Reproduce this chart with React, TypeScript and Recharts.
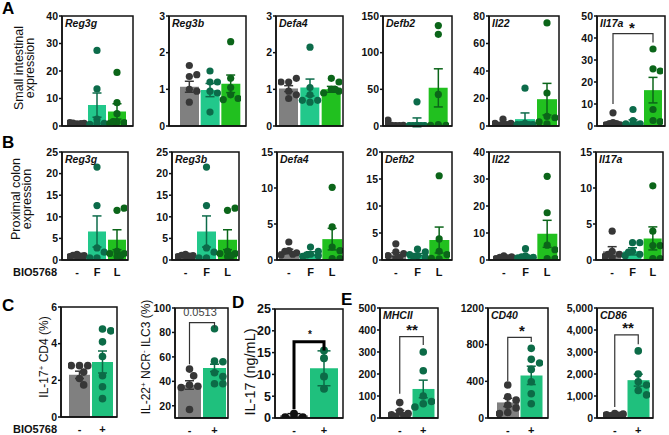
import React from 'react';
import { ComposedChart, Bar, Cell, Scatter, ErrorBar, XAxis, YAxis } from 'recharts';

const FONT = '"Liberation Sans", Arial, Helvetica, sans-serif';

// group labels
const cats3 = ['-', 'F', 'L'];
const cats2 = ['-', '+'];
const genes = ['Reg3g', 'Reg3b', 'Defa4', 'Defb2', 'Il22', 'Il17a'];
const markers = ['MHCII', 'CD40', 'CD86'];

// colours
const bar3 = ['#808080', '#22c88b', '#21c01f'];
const dot3 = ['#373737', '#0c6b4a', '#0b6519'];
const bar2 = ['#808080', '#1fc07d'];
const dot2 = ['#373737', '#0c6b47'];
const dotD = ['#111111', '#0c6b47'];

// axis ticks
const t3 = [0, 1, 2, 3];
const t6 = [0, 2, 4, 6];
const t15 = [0, 5, 10, 15];
const t20 = [0, 5, 10, 15, 20];
const t25 = [0, 5, 10, 15, 20, 25];
const t40a = [0, 10, 20, 30, 40];
const t50 = [0, 10, 20, 30, 40, 50];
const t80 = [0, 20, 40, 60, 80];
const t100 = [20, 40, 60, 80, 100];
const t150 = [0, 50, 100, 150];
const t500 = [0, 100, 200, 300, 400, 500];
const t1200 = [0, 400, 800, 1200];
const t5000 = [0, 1000, 2000, 3000, 4000, 5000];

// A: small intestinal expression
const aReg3gMean = [1.0, 7.6, 5.3];
const aReg3gSem = [0.15, 4.4, 2.8];
const aReg3gDots = [[0.8, 1.0, 1.2, 0.6, 0.9, 1.1], [27.5, 13.5, 2.5, 1.0, 0.6, 1.0], [19.5, 8.5, 4.5, 1.5, 1.2, 1.0, 1.6]];
const aReg3bMean = [1.07, 0.98, 1.15];
const aReg3bSem = [0.15, 0.18, 0.24];
const aReg3bDots = [[1.65, 1.35, 1.4, 1.0, 0.95, 0.65], [1.5, 1.2, 1.2, 0.95, 0.9, 0.38], [2.3, 1.3, 1.05, 0.85, 0.75, 0.72]];
const aDefa4Mean = [1.02, 1.05, 1.0];
const aDefa4Sem = [0.08, 0.23, 0.08];
const aDefa4Dots = [[1.2, 1.3, 1.2, 0.95, 0.85, 0.75], [2.15, 1.05, 0.85, 0.7, 0.65, 0.7], [1.3, 1.2, 1.0, 0.95, 0.9, 1.0]];
const aDefb2Mean = [2.5, 5, 52];
const aDefb2Sem = [1.2, 6, 26];
const aDefb2Dots = [[0.5, 1, 8, 2, 1, 0.5], [33, 1, 0.5, 0.5, 0.5, 0.5], [137, 125, 43, 2, 1, 1]];
const aIl22Mean = [1.8, 5, 19.5];
const aIl22Sem = [0.8, 4.5, 11.5];
const aIl22Dots = [[5, 2, 0.5, 1, 2, 1], [27.5, 2, 1, 1, 1, 1], [75, 24, 7, 6, 3, 1.5]];
const aIl17aMean = [1.5, 1.8, 16.3];
const aIl17aSem = [0.8, 1.0, 5.8];
const aIl17aDots = [[6, 1.5, 0.5, 0.5, 1, 1], [7.5, 2.5, 1, 1, 0.5, 0.5], [35, 26, 25, 7.5, 2.5, 2]];
const aIl17aBracket = [10, 42, 38];

// B: proximal colon expression
const bReg3gMean = [1.0, 6.6, 4.7];
const bReg3gSem = [0.1, 3.6, 2.3];
const bReg3gDots = [[1.3, 1.0, 0.8, 0.9, 1.1, 1.0], [21.5, 12.6, 2.8, 1.8, 0.5, 0.5], [11.5, 12.0, 2.0, 1.5, 1.5, 0.8, 1.0]];
const bReg3bMean = [1.0, 6.6, 4.7];
const bReg3bSem = [0.1, 3.6, 2.3];
const bReg3bDots = [[1.3, 1.0, 0.8, 0.9, 1.1, 1.0], [21.5, 12.6, 2.8, 1.8, 0.5, 0.5], [11.5, 12.0, 2.0, 1.5, 1.5, 0.8, 1.0]];
const bDefa4Mean = [1.2, 0.9, 2.9];
const bDefa4Sem = [0.3, 0.25, 1.5];
const bDefa4Dots = [[2.5, 1.3, 1.0, 0.7, 0.8, 1.2], [1.8, 1.2, 0.8, 0.5, 0.6, 0.7], [10.1, 4.6, 1.8, 1.3, 0.2, 0.2]];
const bDefb2Mean = [1.0, 1.0, 3.7];
const bDefb2Sem = [0.35, 0.2, 2.4];
const bDefb2Dots = [[3.0, 1.5, 1.2, 0.8, 0.2, 0.5], [2.0, 1.5, 1.0, 0.8, 0.5, 0.6], [15.6, 3.9, 1.6, 1.0, 0.2, 0.3]];
const bIl22Mean = [1.0, 1.3, 9.7];
const bIl22Sem = [0.3, 0.5, 5.0];
const bIl22Dots = [[1.5, 1.2, 0.5, 0.8, 1.0, 0.3], [4.2, 1.5, 1.0, 0.8, 0.6, 1.2], [31, 17.5, 5.5, 3.8, 0.5, 0.5]];
const bIl17aMean = [1.2, 1.2, 3.0];
const bIl17aSem = [0.65, 0.5, 1.6];
const bIl17aDots = [[4.0, 1.2, 0.8, 0.5, 0.3, 0.8], [2.4, 2.4, 1.2, 0.8, 0.6, 1.1], [10.3, 4.0, 2.0, 2.0, 0.2, 0.2]];

// C: flow cytometry
const cCd4Mean = [2.3, 3.0];
const cCd4Sem = [0.2, 0.6];
const cCd4Dots = [[2.8, 2.8, 2.8, 2.45, 2.1, 1.75], [4.8, 4.7, 4.1, 3.3, 2.25, 1.65, 1.0]];
const cIlc3Mean = [37, 51];
const cIlc3Sem = [3.5, 3];
const cIlc3Dots = [[50, 44.5, 37, 36, 35, 17], [83, 56.5, 56, 47, 44, 38, 38]];
const cIlc3Bracket = [54, 88, 84];

// D: IL-17 protein
const dIl17Mean = [0.6, 11.4];
const dIl17Sem = [0.4, 4.0];
const dIl17Dots = [[1.0, 0.2, 0.2], [15.5, 13.7, 9.5, 6.7]];
const dIl17Bracket = [2.0, 17.5, 15.5];

// E: activation markers
const eMhcMean = [25, 132];
const eMhcSem = [10, 40];
const eMhcDots = [[70, 30, 20, 15, 10, 5], [300, 215, 100, 75, 65, 50]];
const eMhcBracket = [110, 370, 332];
const eCd40Mean = [170, 465];
const eCd40Sem = [45, 100];
const eCd40Dots = [[360, 230, 195, 140, 110, 60, 48], [760, 640, 600, 530, 395, 265, 155]];
const eCd40Bracket = [400, 880, 830];
const eCd86Mean = [150, 1720];
const eCd86Sem = [40, 270];
const eCd86Dots = [[200, 180, 150, 120, 100, 80], [3050, 2000, 1650, 1500, 1250, 1050]];
const eCd86Bracket = [500, 3780, 3350];

type Def = {
  x: number; y: number; w: number; h: number; padL: number; padR: number;
  domain: [number, number]; ticks: number[]; cats: string[];
  means: number[]; sems: number[]; dots: number[][];
  bars: string[]; dotColors: string[];
  title?: string; showX?: boolean; fs?: number; comma?: boolean; r?: number; cap?: number;
  bracket?: number[]; bracketTo?: number; thick?: boolean;
};

const rowA = { y: 16, h: 110, cats: cats3, bars: bar3, dotColors: dot3 };
const rowB = { y: 152, h: 108, cats: cats3, bars: bar3, dotColors: dot3, showX: true };
const rowC = { h: 110, cats: cats2, bars: bar2, dotColors: dot2, showX: true };

const panels: Def[] = [
  { ...rowA, x: 62, w: 71, padL: 5, padR: 6, domain: [0, 40], ticks: t40a, means: aReg3gMean, sems: aReg3gSem, dots: aReg3gDots, title: genes[0] },
  { ...rowA, x: 169, w: 77, padL: 10, padR: 5, domain: [0, 3], ticks: t3, means: aReg3bMean, sems: aReg3bSem, dots: aReg3bDots, title: genes[1] },
  { ...rowA, x: 276, w: 67, padL: 2, padR: 1, domain: [0, 3], ticks: t3, means: aDefa4Mean, sems: aDefa4Sem, dots: aDefa4Dots, title: genes[2] },
  { ...rowA, x: 383, w: 69, padL: 2, padR: 3, domain: [0, 150], ticks: t150, means: aDefb2Mean, sems: aDefb2Sem, dots: aDefb2Dots, title: genes[3] },
  { ...rowA, x: 489, w: 70, padL: 3, padR: 1, domain: [0, 80], ticks: t80, means: aIl22Mean, sems: aIl22Sem, dots: aIl22Dots, title: genes[4] },
  { ...rowA, x: 597, w: 68, padL: 6, padR: 2, domain: [0, 50], ticks: t50, means: aIl17aMean, sems: aIl17aSem, dots: aIl17aDots, title: genes[5], bracket: aIl17aBracket, bracketTo: 2 },
  { ...rowB, x: 62, w: 66, padL: 5, padR: 1, domain: [0, 25], ticks: t25, means: bReg3gMean, sems: bReg3gSem, dots: bReg3gDots, title: genes[0] },
  { ...rowB, x: 172, w: 67, padL: 3, padR: 1, domain: [0, 25], ticks: t25, means: bReg3bMean, sems: bReg3bSem, dots: bReg3bDots, title: genes[1] },
  { ...rowB, x: 277, w: 66, padL: 1, padR: 0, domain: [0, 15], ticks: t15, means: bDefa4Mean, sems: bDefa4Sem, dots: bDefa4Dots, title: genes[2] },
  { ...rowB, x: 382, w: 70, padL: 3, padR: 2, domain: [0, 20], ticks: t20, means: bDefb2Mean, sems: bDefb2Sem, dots: bDefb2Dots, title: genes[3] },
  { ...rowB, x: 489, w: 71, padL: 4, padR: 2, domain: [0, 40], ticks: t40a, means: bIl22Mean, sems: bIl22Sem, dots: bIl22Dots, title: genes[4] },
  { ...rowB, x: 596, w: 67, padL: 6, padR: 0, domain: [0, 15], ticks: t15, means: bIl17aMean, sems: bIl17aSem, dots: bIl17aDots, title: genes[5] },
  { ...rowC, x: 61, y: 307, w: 56, padL: 7, padR: 3, domain: [0, 6], ticks: t6, means: cCd4Mean, sems: cCd4Sem, dots: cCd4Dots, r: 3.8 },
  { ...rowC, x: 175, y: 308, w: 53, padL: 2, padR: 1, domain: [10, 100], ticks: t100, means: cIlc3Mean, sems: cIlc3Sem, dots: cIlc3Dots, r: 3.8, bracket: cIlc3Bracket, bracketTo: 1 },
  { ...rowC, x: 275, y: 309, w: 68, h: 109, padL: 4, padR: 4, domain: [0, 25], ticks: t25, means: dIl17Mean, sems: dIl17Sem, dots: dIl17Dots, dotColors: dotD, fs: 12.5, r: 4, cap: 6.5, bracket: dIl17Bracket, bracketTo: 1, thick: true },
  { ...rowC, x: 380, y: 308, w: 58, padL: 8, padR: 3, domain: [0, 500], ticks: t500, means: eMhcMean, sems: eMhcSem, dots: eMhcDots, r: 3.8, title: markers[0], bracket: eMhcBracket, bracketTo: 1 },
  { ...rowC, x: 488, y: 308, w: 60, padL: 8, padR: 5, domain: [0, 1200], ticks: t1200, means: eCd40Mean, sems: eCd40Sem, dots: eCd40Dots, r: 3.8, title: markers[1], bracket: eCd40Bracket, bracketTo: 1 },
  { ...rowC, x: 597, y: 308, w: 56, padL: 6, padR: 3, domain: [0, 5000], ticks: t5000, means: eCd86Mean, sems: eCd86Sem, dots: eCd86Dots, r: 3.8, comma: true, title: markers[2], bracket: eCd86Bracket, bracketTo: 1 },
];

// spread dots sideways so they do not sit on top of each other (pixel offsets)
function swarm(vals: number[], toPx: (v: number) => number, band: number, r: number): number[] {
  const placed: { x: number; y: number }[] = [];
  const lim = band * 0.36;
  const step = r * 1.1;
  return vals.map((v) => {
    const y = toPx(v);
    let best = 0;
    let bestD = -1;
    for (let k = 0; k < 9; k++) {
      const raw = k === 0 ? 0 : (k % 2 ? 1 : -1) * Math.ceil(k / 2) * step;
      const cx = Math.max(-lim, Math.min(lim, raw));
      const dmin = placed.length ? Math.min(...placed.map((q) => Math.hypot(q.x - cx, q.y - y))) : Infinity;
      if (dmin >= 2 * r * 0.95) { best = cx; bestD = Infinity; break; }
      if (dmin > bestD) { bestD = dmin; best = cx; }
    }
    placed.push({ x: best, y });
    return best;
  });
}

const noShape = () => <g />;

const ML = 40, MT = 6, MR = 6, MB = 26;

function Panel({ d }: { d: Def }) {
  const n = d.cats.length;
  const fs = d.fs ?? 10.5;
  const r = d.r ?? 3.6;
  const band = (d.w - d.padL - d.padR) / n;
  const span = d.domain[1] - d.domain[0];
  const toPx = (v: number) => ((v - d.domain[0]) / span) * d.h;
  const rows = d.cats.map((c, i) => ({ name: c, mean: d.means[i] }));
  const pts = d.dots.map((vals, i) => {
    const offs = swarm(vals, toPx, band, r);
    return vals.map((v, j) => ({ x: i + offs[j] / band, y: v }));
  });
  const errs = d.means.map((m, i) => [{ x: i, y: m, e: d.sems[i] }]);
  const to = d.bracketTo ?? 1;
  const br = d.bracket
    ? [{ x: 0, y: d.bracket[0] }, { x: 0, y: d.bracket[1] }, { x: to, y: d.bracket[1] }, { x: to, y: d.bracket[2] }]
    : null;
  const axisLine = { stroke: '#111', strokeWidth: 1.5 };
  const tickStyle = { fontSize: fs, fontWeight: 700, fill: '#111', fontFamily: FONT };
  const fmt = (v: number) => (d.comma ? v.toLocaleString('en-US') : String(v));

  return (
    <div style={{ position: 'absolute', left: d.x - ML, top: d.y - MT }}>
      <ComposedChart
        width={d.w + ML + MR}
        height={d.h + MT + MB}
        data={rows}
        margin={{ top: MT, right: MR, bottom: 0, left: 0 }}
        barCategoryGap={1}
      >
        <XAxis
          xAxisId="cat"
          dataKey="name"
          type="category"
          padding={{ left: d.padL, right: d.padR }}
          height={MB}
          axisLine={axisLine}
          tickLine={false}
          tick={d.showX ? { ...tickStyle, fontSize: 11 } : false}
          tickSize={4}
          tickMargin={4}
          interval={0}
        />
        <YAxis
          yAxisId="val"
          type="number"
          domain={d.domain}
          ticks={d.ticks}
          interval={0}
          width={ML}
          allowDataOverflow
          axisLine={axisLine}
          tickLine={{ stroke: '#111', strokeWidth: 1.5 }}
          tickSize={3}
          tickMargin={1}
          tick={tickStyle}
          tickFormatter={fmt}
        />
        <XAxis xAxisId="num" dataKey="x" type="number" domain={[-0.5, n - 0.5]} padding={{ left: d.padL, right: d.padR }} hide height={0} allowDataOverflow />
        <YAxis yAxisId="num" dataKey="y" type="number" domain={d.domain} hide width={0} allowDataOverflow />
        <Bar xAxisId="cat" yAxisId="val" dataKey="mean" isAnimationActive={false}>
          {d.bars.map((c, i) => (
            <Cell key={i} fill={c} />
          ))}
        </Bar>
        {errs.map((e, i) => (
          <Scatter key={'e' + i} xAxisId="num" yAxisId="num" data={e} shape={noShape} isAnimationActive={false}>
            <ErrorBar dataKey="e" direction="y" width={d.cap ?? 4.5} stroke={d.dotColors[i]} strokeWidth={1.5} isAnimationActive={false} />
          </Scatter>
        ))}
        {pts.map((p, i) => (
          <Scatter
            key={'d' + i}
            xAxisId="num"
            yAxisId="num"
            data={p}
            isAnimationActive={false}
            shape={(s: any) => <circle cx={s.cx} cy={s.cy} r={r} fill={d.dotColors[i]} />}
          />
        ))}
        {br && (
          <Scatter
            xAxisId="num"
            yAxisId="num"
            data={br}
            shape={noShape}
            line={{ stroke: d.thick ? '#000' : '#333', strokeWidth: d.thick ? 3 : 1.2 }}
            isAnimationActive={false}
          />
        )}
      </ComposedChart>
    </div>
  );
}

const letters = [
  { t: 'A', x: 2, y: 14 },
  { t: 'B', x: 2, y: 148 },
  { t: 'C', x: 2, y: 311 },
  { t: 'D', x: 232, y: 308 },
  { t: 'E', x: 341, y: 305 },
];

const stars = [
  { t: '*', x: 632, y: 33, fs: 15 },
  { t: '**', x: 412, y: 335, fs: 15 },
  { t: '*', x: 522, y: 336, fs: 15 },
  { t: '**', x: 628, y: 333, fs: 15 },
  { t: '*', x: 310, y: 338, fs: 10 },
];

function Overlay() {
  const yl = (x: number, y: number, fs: number, body: React.ReactNode, key: string) => (
    <text key={key} transform={`translate(${x},${y}) rotate(-90)`} textAnchor="middle" fontSize={fs} fill="#111">
      {body}
    </text>
  );
  return (
    <svg width={669} height={435} style={{ position: 'absolute', left: 0, top: 0, pointerEvents: 'none' }} fontFamily={FONT}>
      {panels.map((d, i) => (
        <rect key={'f' + i} x={d.x} y={d.y} width={d.w} height={d.h} fill="none" stroke="#111" strokeWidth={1.5} />
      ))}
      {panels.map((d, i) =>
        d.title ? (
          <text key={'t' + i} x={d.x + 3} y={d.y + 11} fontSize={10.5} fontWeight={700} fontStyle="italic" fill="#111">
            {d.title}
          </text>
        ) : null
      )}
      {letters.map((l) => (
        <text key={l.t} x={l.x} y={l.y} fontSize={17} fontWeight={700} fill="#000">
          {l.t}
        </text>
      ))}
      {stars.map((s, i) => (
        <text key={'s' + i} x={s.x} y={s.y} fontSize={s.fs} fontWeight={700} textAnchor="middle" fill="#111">
          {s.t}
        </text>
      ))}
      {yl(23, 68, 12.5, 'Small intestinal', 'la1')}
      {yl(34, 68, 12.5, 'expression', 'la2')}
      {yl(20, 199, 12.5, 'Proximal colon', 'lb1')}
      {yl(31, 199, 12.5, 'expression', 'lb2')}
      {yl(48, 357, 12, <>IL-17<tspan dy={-4} fontSize={8}>+</tspan><tspan dy={4}> CD4 (%)</tspan></>, 'lc1')}
      {yl(150, 357, 12, <>IL-22<tspan dy={-4} fontSize={8}>+</tspan><tspan dy={4}> NCR</tspan><tspan dy={-4} fontSize={8}>-</tspan><tspan dy={4}> ILC3 (%)</tspan></>, 'lc2')}
      {yl(255, 372, 14.5, 'IL-17 (ng/mL)', 'ld')}
      <text x={200} y={316} fontSize={11} textAnchor="middle" fill="#444">0.0513</text>
      <text x={13} y={276} fontSize={11} fontWeight={700} fill="#111">BIO5768</text>
      <text x={13} y={433} fontSize={11} fontWeight={700} fill="#111">BIO5768</text>
    </svg>
  );
}

export default function App() {
  return (
    <div style={{ position: 'absolute', left: 0, top: 0, width: 669, height: 435, background: '#fff', fontFamily: FONT }}>
      {panels.map((d, i) => (
        <Panel key={i} d={d} />
      ))}
      <Overlay />
    </div>
  );
}
